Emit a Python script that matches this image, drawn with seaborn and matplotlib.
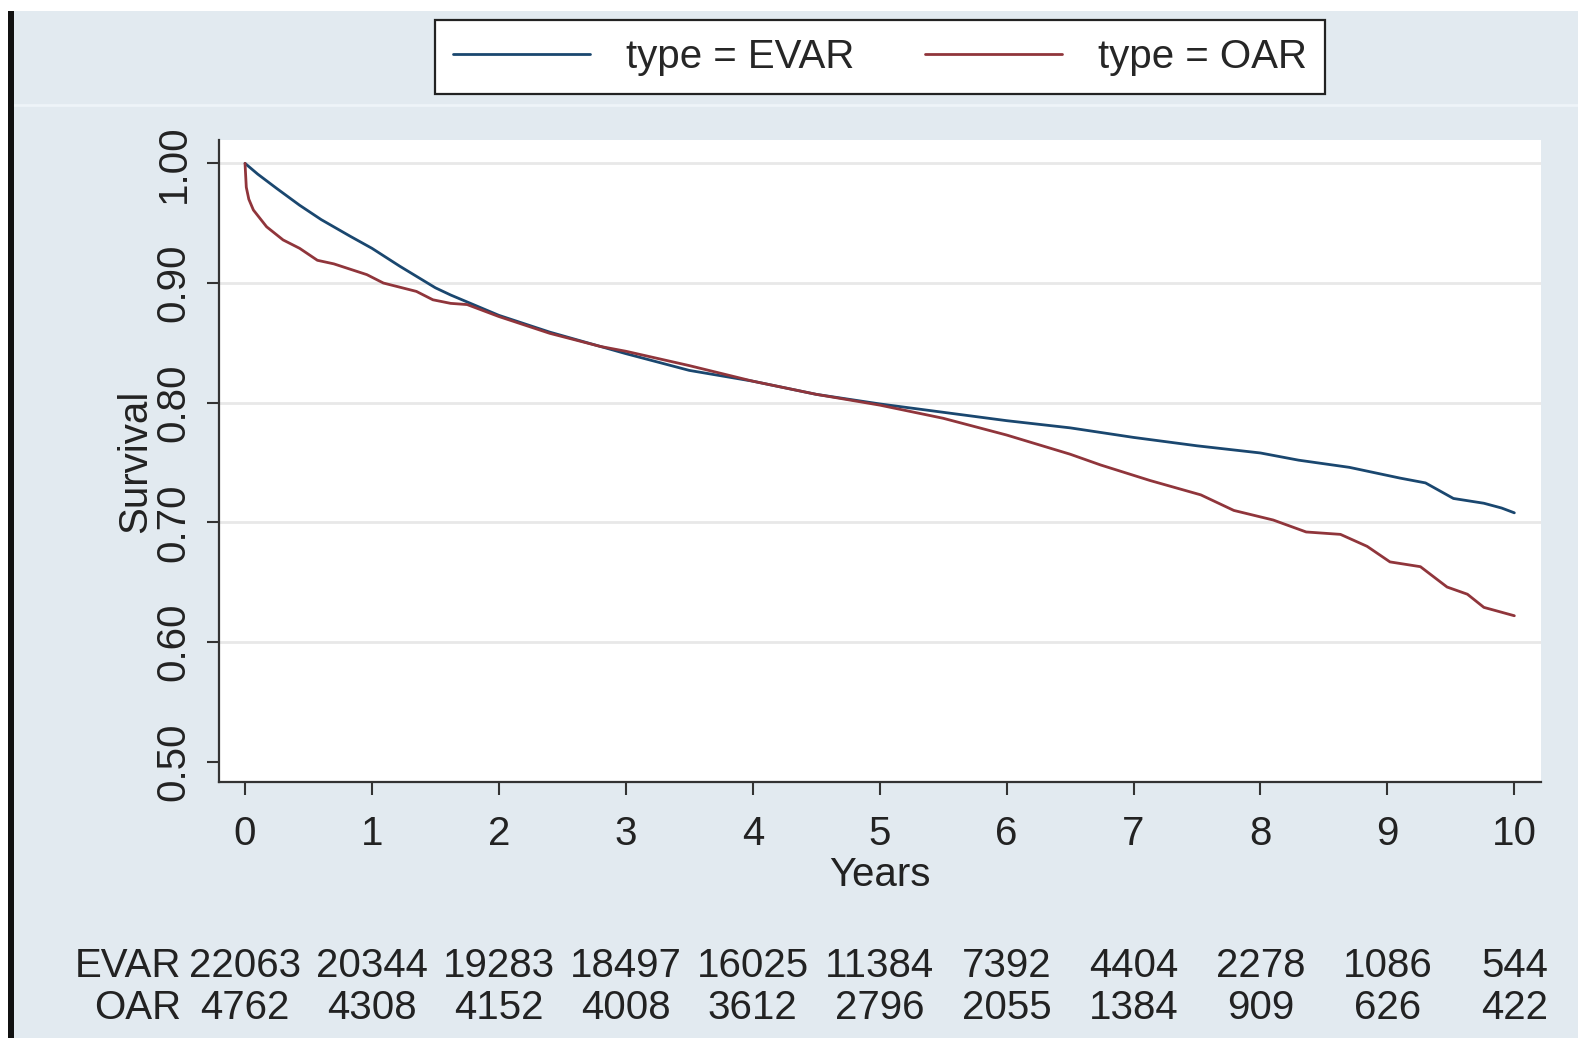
import numpy as np
import pandas as pd
import matplotlib
matplotlib.use("Agg")
import matplotlib.pyplot as plt
from matplotlib.lines import Line2D
from matplotlib.patches import Rectangle
from matplotlib.transforms import blended_transform_factory
import seaborn as sns

# Kaplan-Meier survival estimates by repair type
evar_years = [0, 0.1, 0.25, 0.43, 0.6, 0.83, 1.0, 1.22, 1.5, 1.62, 2.0, 2.4, 2.8,
              3.0, 3.5, 4.0, 4.5, 5.0, 5.5, 6.0, 6.5, 7.0, 7.5, 8.0, 8.3, 8.7,
              9.1, 9.3, 9.52, 9.76, 9.9, 10.0]
evar_surv = [1.0, 0.991, 0.979, 0.965, 0.953, 0.939, 0.929, 0.914, 0.896, 0.890,
             0.873, 0.859, 0.847, 0.841, 0.827, 0.818, 0.807, 0.799, 0.792, 0.785,
             0.779, 0.771, 0.764, 0.758, 0.752, 0.746, 0.737, 0.733, 0.720, 0.716,
             0.712, 0.708]

oar_years = [0, 0.01, 0.03, 0.066, 0.17, 0.3, 0.43, 0.57, 0.7, 0.96, 1.09, 1.35,
             1.48, 1.62, 1.75, 2.0, 2.4, 2.8, 3.0, 3.5, 4.0, 4.5, 5.0, 5.5, 6.0,
             6.5, 6.74, 7.13, 7.53, 7.79, 8.1, 8.36, 8.63, 8.84, 9.02, 9.26, 9.47,
             9.63, 9.76, 10.0]
oar_surv = [1.0, 0.980, 0.970, 0.961, 0.947, 0.936, 0.929, 0.919, 0.916, 0.907,
            0.900, 0.893, 0.886, 0.883, 0.882, 0.872, 0.858, 0.847, 0.843, 0.831,
            0.818, 0.807, 0.798, 0.787, 0.773, 0.757, 0.748, 0.735, 0.723, 0.710,
            0.702, 0.692, 0.690, 0.680, 0.667, 0.663, 0.646, 0.640, 0.629, 0.622]

# Number at risk table
risk_years = [0, 1, 2, 3, 4, 5, 6, 7, 8, 9, 10]
evar_at_risk = [22063, 20344, 19283, 18497, 16025, 11384, 7392, 4404, 2278, 1086, 544]
oar_at_risk = [4762, 4308, 4152, 4008, 3612, 2796, 2055, 1384, 909, 626, 422]

y_ticks = [0.50, 0.60, 0.70, 0.80, 0.90, 1.00]
grid_values = [0.60, 0.70, 0.80, 0.90, 1.00]
x_ticks = list(range(0, 11))

colors = {"EVAR": "#1A476F", "OAR": "#90353B"}
bg = "#E2EAF0"

sns.set_theme(style="white")
plt.rcParams["font.family"] = ["Liberation Sans", "DejaVu Sans"]
FS = 29

df = pd.concat([
    pd.DataFrame({"Years": evar_years, "Survival": evar_surv, "type": "EVAR"}),
    pd.DataFrame({"Years": oar_years, "Survival": oar_surv, "type": "OAR"}),
], ignore_index=True)

W, H = 1578, 1038
fig = plt.figure(figsize=(W / 100, H / 100), dpi=100)
fig.patch.set_facecolor(bg)

# frame decorations: white strip on top, dark bar on the left
fig.add_artist(Rectangle((0, 1 - 11 / H), 1, 11 / H, transform=fig.transFigure,
                         facecolor="white", edgecolor="none", zorder=0))
fig.add_artist(Rectangle((0, 0), 8 / W, 1 - 11 / H, transform=fig.transFigure,
                         facecolor="white", edgecolor="none", zorder=0))
fig.add_artist(Rectangle((8 / W, 0), 6 / W, 1 - 11 / H, transform=fig.transFigure,
                         facecolor="#111111", edgecolor="none", zorder=1))
fig.add_artist(Line2D([14 / W, 1], [1 - 105 / H, 1 - 105 / H], transform=fig.transFigure,
                      color="#EEF4F8", lw=2, zorder=0))

ax = fig.add_axes([219 / W, 256 / H, (1541 - 219) / W, (782 - 140) / H])
ax.set_facecolor("white")

for g in grid_values:
    ax.axhline(g, color="#E8E8E8", lw=2, zorder=0)

sns.lineplot(data=df, x="Years", y="Survival", hue="type", palette=colors,
             estimator=None, sort=False, legend=False, ax=ax, linewidth=2.0)

ax.set_xlim(-0.205, 10.21)
ax.set_ylim(0.4831, 1.0195)
ax.set_xticks(x_ticks)
ax.set_xticklabels([str(t) for t in x_ticks], fontsize=FS)
ax.set_yticks(y_ticks)
ax.set_yticklabels([f"{v:.2f}" for v in y_ticks], fontsize=FS, rotation=90,
                   va="center")
for s in ["top", "right"]:
    ax.spines[s].set_visible(False)
for s in ["left", "bottom"]:
    ax.spines[s].set_color("#333333")
    ax.spines[s].set_linewidth(1.6)
ax.tick_params(axis="both", direction="out", length=9, width=1.5, color="#333333",
               labelcolor="#222222")
ax.tick_params(axis="x", pad=15, bottom=True)
ax.tick_params(axis="y", pad=10, left=True)
ax.set_xlabel("Years", fontsize=FS, color="#222222", labelpad=2)
ax.set_ylabel("Survival", fontsize=FS, color="#222222", labelpad=0)

# legend across the top
handles = [Line2D([0], [0], color=colors["EVAR"], lw=2),
           Line2D([0], [0], color=colors["OAR"], lw=2)]
leg = fig.legend(handles, ["type = EVAR", "type = OAR"], loc="center",
                 bbox_to_anchor=(880 / W, 1 - 57 / H), ncol=2, fontsize=FS,
                 frameon=True, fancybox=False, framealpha=1, edgecolor="#222222",
                 handlelength=3.4, handletextpad=0.9, columnspacing=1.75,
                 borderpad=0.45)
leg.get_frame().set_linewidth(1.6)
leg.get_frame().set_facecolor("white")

# number-at-risk rows
trans = blended_transform_factory(ax.transData, fig.transFigure)
row_y = {"EVAR": 1 - 966 / H, "OAR": 1 - 1008 / H}
for name, counts in [("EVAR", evar_at_risk), ("OAR", oar_at_risk)]:
    fig.text(181 / W, row_y[name], name, ha="right", va="center", fontsize=FS,
             color="#222222")
    for t, n in zip(risk_years, counts):
        ax.text(t, row_y[name], str(n), transform=trans, ha="center", va="center",
                fontsize=FS, color="#222222", clip_on=False)

fig.savefig("out.png", dpi=100, facecolor=fig.get_facecolor())
